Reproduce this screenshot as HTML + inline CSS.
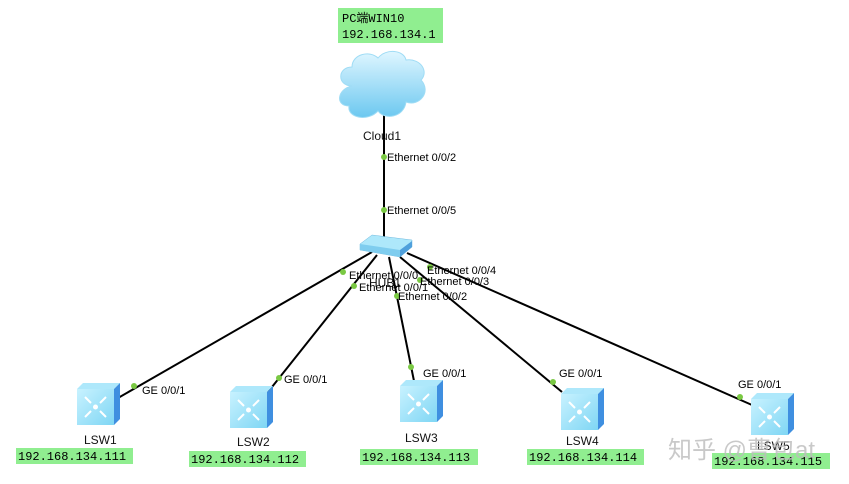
<!DOCTYPE html>
<html><head><meta charset="utf-8"><style>
html,body{margin:0;padding:0;background:#fff;}
svg{display:block;}
.l{font-family:"Liberation Sans",sans-serif;font-size:11px;fill:#000;}
.n{font-family:"Liberation Sans",sans-serif;font-size:12px;fill:#111;}
.m{font-family:"Liberation Mono","DejaVu Sans Mono",monospace;font-size:12px;fill:#000;}
</style></head><body>
<svg width="849" height="484" viewBox="0 0 849 484" xmlns="http://www.w3.org/2000/svg">
<defs>
<linearGradient id="cl" x1="0" y1="0" x2="0" y2="1"><stop offset="0" stop-color="#dff6ff"/><stop offset="1" stop-color="#6cc8f0"/></linearGradient>
<linearGradient id="fr" x1="0" y1="0" x2="1" y2="1"><stop offset="0" stop-color="#c8f2ff"/><stop offset="1" stop-color="#7fd6f4"/></linearGradient>
<g id="sw">
<path d="M0,6 L6,0 L43,0 L37,6 Z" fill="#aee8fb"/>
<path d="M37,6 L43,0 L43,36 L37,42 Z" fill="#3f8fe0"/>
<rect x="0" y="6" width="37" height="36" fill="url(#fr)"/>
<g stroke="#fff" stroke-width="2" fill="none">
<path d="M8,14 L14,20 M29,14 L23,20 M8,34 L14,28 M29,34 L23,28"/>
</g>
<circle cx="18.5" cy="24" r="2.5" fill="#fff"/>
</g>
</defs>
<rect x="338" y="8" width="105" height="35" fill="#90ee90"/>
<text class="m" x="342" y="22">PC端WIN10</text>
<text class="m" x="342" y="38">192.168.134.1</text>
<g stroke="#000" stroke-width="2">
<line x1="384" y1="110" x2="384" y2="238"/>
<line x1="372" y1="252" x2="118" y2="398"/>
<line x1="377" y1="255" x2="268" y2="392"/>
<line x1="389" y1="257" x2="414" y2="381"/>
<line x1="400" y1="257" x2="562" y2="392"/>
<line x1="407" y1="253" x2="752" y2="405"/>
</g>
<path d="M352,86 C337,86 337,67 352,67 C352,54 370,50 378,58 C386,48 404,50 406,60 C421,58 429,72 421,80 C432,92 419,107 406,102 C404,118 384,120 378,111 C368,122 347,118 349,106 C335,106 337,89 352,86 Z" fill="url(#cl)" stroke="#9fdcf5"/>
<text class="n" x="363" y="140">Cloud1</text>
<path d="M360,244 L372,235 L412,240 L412,247 L400,257 L360,250 Z" fill="#aee8fb" stroke="#6fb8de" stroke-width="0.5"/>
<path d="M360,244 L400,250 L400,257 L360,250 Z" fill="#7fcdef"/>
<path d="M400,250 L412,241 L412,247 L400,257 Z" fill="#4fa0dc"/>
<g fill="#7ac943">
<circle cx="384" cy="157" r="3"/><circle cx="384" cy="210" r="3"/>
<circle cx="343" cy="272" r="3"/><circle cx="354" cy="286" r="3"/><circle cx="397" cy="296" r="3"/>
<circle cx="420" cy="280" r="3"/><circle cx="430" cy="267" r="3"/>
<circle cx="134" cy="386" r="3"/><circle cx="279" cy="378" r="3"/><circle cx="411" cy="367" r="3"/>
<circle cx="553" cy="382" r="3"/><circle cx="740" cy="397" r="3"/>
</g>
<text class="l" x="387" y="161">Ethernet 0/0/2</text>
<text class="l" x="387" y="214">Ethernet 0/0/5</text>
<text class="n" x="369" y="287">HUB1</text>
<text class="l" x="349" y="279">Ethernet 0/0/0</text>
<text class="l" x="359" y="291">Ethernet 0/0/1</text>
<text class="l" x="398" y="300">Ethernet 0/0/2</text>
<text class="l" x="420" y="285">Ethernet 0/0/3</text>
<text class="l" x="427" y="274">Ethernet 0/0/4</text>
<text class="l" x="142" y="394">GE 0/0/1</text>
<text class="l" x="284" y="383">GE 0/0/1</text>
<text class="l" x="423" y="377">GE 0/0/1</text>
<text class="l" x="559" y="377">GE 0/0/1</text>
<text class="l" x="738" y="388">GE 0/0/1</text>
<use href="#sw" x="77" y="383"/>
<use href="#sw" x="230" y="386"/>
<use href="#sw" x="400" y="380"/>
<use href="#sw" x="561" y="388"/>
<use href="#sw" x="751" y="393"/>
<text class="n" x="84" y="444">LSW1</text>
<text class="n" x="237" y="446">LSW2</text>
<text class="n" x="405" y="442">LSW3</text>
<text class="n" x="566" y="445">LSW4</text>
<text class="n" x="757" y="450">LSW5</text>
<rect x="16" y="448" width="117" height="16" fill="#90ee90"/>
<text class="m" x="18" y="460">192.168.134.111</text>
<rect x="189" y="451" width="117" height="16" fill="#90ee90"/>
<text class="m" x="191" y="463">192.168.134.112</text>
<rect x="360" y="449" width="118" height="16" fill="#90ee90"/>
<text class="m" x="362" y="461">192.168.134.113</text>
<rect x="527" y="449" width="117" height="16" fill="#90ee90"/>
<text class="m" x="529" y="461">192.168.134.114</text>
<rect x="712" y="453" width="118" height="16" fill="#90ee90"/>
<text class="m" x="714" y="465">192.168.134.115</text>
<text x="668" y="458" font-family="'Liberation Sans','Noto Sans CJK SC',sans-serif" font-size="24" fill="#bbb" fill-opacity="0.8">知乎 @曹包at</text>
</svg>
</body></html>
